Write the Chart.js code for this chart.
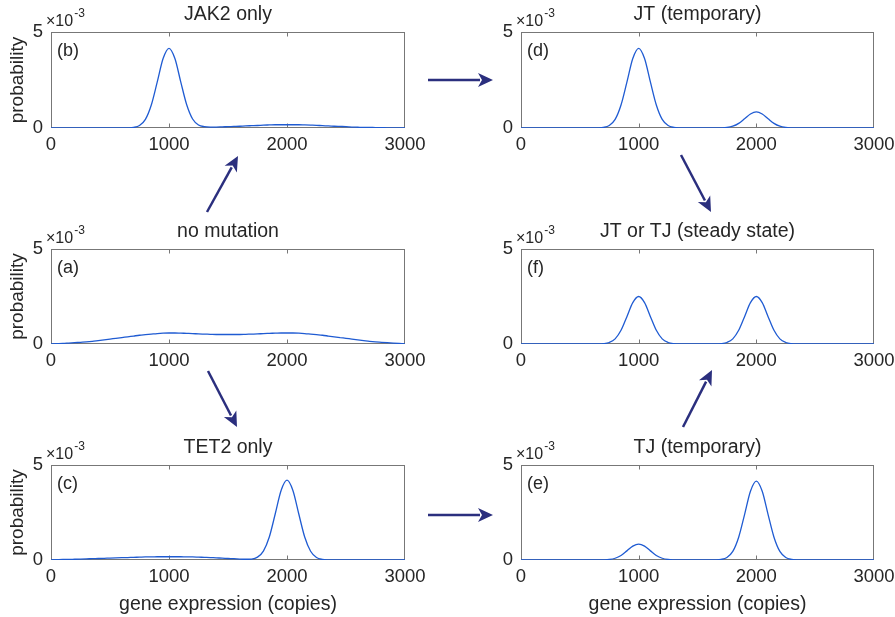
<!DOCTYPE html>
<html>
<head>
<meta charset="utf-8">
<script src="https://cdn.jsdelivr.net/npm/chart.js@4.4.0/dist/chart.umd.min.js"></script>
<style>
  body { margin: 0; background: #fff; }
  #wrap { position: relative; width: 895px; height: 617px; overflow: hidden; }
  #wrap canvas { position: absolute; }
</style>
</head>
<body>
<div id="wrap">
  <canvas id="pb" width="430" height="156" style="left:0;top:2px"></canvas>
  <canvas id="pd" width="425" height="156" style="left:470px;top:2px"></canvas>
  <canvas id="pa" width="430" height="155" style="left:0;top:219px"></canvas>
  <canvas id="pf" width="425" height="155" style="left:470px;top:219px"></canvas>
  <canvas id="pc" width="430" height="182" style="left:0;top:435px"></canvas>
  <canvas id="pe" width="425" height="182" style="left:470px;top:435px"></canvas>
  <canvas id="arrows" width="895" height="617" style="left:0;top:0"></canvas>
</div>
<script>
// gene expression (copies)
const copies = [0, 50, 100, 150, 200, 250, 300, 350, 400, 450, 500, 550, 600, 650, 700, 750,
  800, 850, 900, 950, 1000, 1050, 1100, 1150, 1200, 1250, 1300, 1350, 1400, 1450, 1500,
  1550, 1600, 1650, 1700, 1750, 1800, 1850, 1900, 1950, 2000, 2050, 2100, 2150, 2200,
  2250, 2300, 2350, 2400, 2450, 2500, 2550, 2600, 2650, 2700, 2750, 2800, 2850, 2900,
  2950, 3000];

// probability, in units of 1e-3
const noMutation = [0.01, 0.02, 0.03, 0.05, 0.07, 0.09, 0.11, 0.14, 0.18, 0.22, 0.26, 0.30,
  0.34, 0.38, 0.42, 0.46, 0.49, 0.52, 0.55, 0.57,
  0.58, 0.58, 0.57, 0.56, 0.55, 0.53, 0.52, 0.51, 0.50, 0.50, 0.50, 0.50, 0.50, 0.51,
  0.52, 0.53, 0.55, 0.56, 0.57, 0.58,
  0.58, 0.58, 0.57, 0.55, 0.52, 0.49, 0.46, 0.42, 0.38, 0.34, 0.30, 0.26, 0.22, 0.18,
  0.14, 0.11, 0.09, 0.07, 0.05, 0.03, 0.01];

const jak2Only = [0, 0, 0, 0, 0, 0, 0, 0, 0, 0, 0, 0, 0,
  0.005, 0.03, 0.13, 0.45, 1.20, 2.39, 3.62, 4.15, 3.62, 2.39, 1.21, 0.47, 0.16, 0.07, 0.05,
  0.05, 0.06, 0.07, 0.08, 0.09, 0.11, 0.12, 0.13, 0.15, 0.16, 0.17, 0.17, 0.17, 0.17, 0.17,
  0.16, 0.15, 0.14, 0.12, 0.11, 0.09, 0.08, 0.07, 0.05, 0.04, 0.03, 0.03, 0.02, 0.02,
  0.01, 0.01, 0.01, 0];

const tet2Only = [0.01, 0.02, 0.03, 0.03, 0.04, 0.05, 0.06, 0.07, 0.08, 0.09, 0.10, 0.11,
  0.12, 0.13, 0.14, 0.15, 0.16, 0.16, 0.17, 0.17, 0.17, 0.17, 0.17, 0.16, 0.16, 0.15,
  0.14, 0.13, 0.11, 0.10, 0.08, 0.07, 0.05,
  0.04, 0.05, 0.15, 0.47, 1.21, 2.42, 3.66, 4.20, 3.66, 2.42, 1.21, 0.46, 0.13, 0.03, 0.005,
  0, 0, 0, 0, 0, 0, 0, 0, 0, 0, 0, 0, 0];

const jtTemporary = [0, 0, 0, 0, 0, 0, 0, 0, 0, 0, 0, 0, 0,
  0.005, 0.03, 0.13, 0.45, 1.20, 2.39, 3.62, 4.15, 3.62, 2.39, 1.20, 0.45, 0.13, 0.03, 0.005,
  0, 0, 0, 0, 0,
  0.001, 0.006, 0.026, 0.092, 0.24, 0.48, 0.73, 0.84, 0.73, 0.48, 0.24, 0.092, 0.026, 0.006, 0.001,
  0, 0, 0, 0, 0, 0, 0, 0, 0, 0, 0, 0, 0];

const tjTemporary = [0, 0, 0, 0, 0, 0, 0, 0, 0, 0, 0, 0, 0,
  0.001, 0.006, 0.026, 0.092, 0.24, 0.48, 0.73, 0.84, 0.73, 0.48, 0.24, 0.092, 0.026, 0.006, 0.001,
  0, 0, 0, 0, 0,
  0.005, 0.03, 0.13, 0.45, 1.20, 2.39, 3.62, 4.15, 3.62, 2.39, 1.20, 0.45, 0.13, 0.03, 0.005,
  0, 0, 0, 0, 0, 0, 0, 0, 0, 0, 0, 0, 0];

const steadyState = [0, 0, 0, 0, 0, 0, 0, 0, 0, 0, 0, 0, 0,
  0.002, 0.017, 0.08, 0.27, 0.72, 1.44, 2.18, 2.50, 2.18, 1.44, 0.72, 0.27, 0.08, 0.017, 0.002,
  0, 0, 0, 0, 0,
  0.002, 0.017, 0.08, 0.27, 0.72, 1.44, 2.18, 2.50, 2.18, 1.44, 0.72, 0.27, 0.08, 0.017, 0.002,
  0, 0, 0, 0, 0, 0, 0, 0, 0, 0, 0, 0, 0];

const xTicks = [0, 1000, 2000, 3000];
const yTicks = [0, 5];

const FONT = '"Liberation Sans", Arial, Helvetica, sans-serif';
const INK = '#262626';
const AXIS = '#777777';
const LINE = '#1f5bd2';

// box round the axes, inward ticks, panel letter and the x10^-3 multiplier
const boxPlugin = {
  id: 'box',
  beforeDatasetsDraw(chart, args, opts) {
    const { ctx, chartArea: a, scales } = chart;
    const l = Math.round(a.left) + 0.5, r = Math.round(a.right) - 0.5;
    const t = Math.round(a.top) + 0.5, b = Math.round(a.bottom) - 0.5;
    ctx.save();
    ctx.strokeStyle = AXIS;
    ctx.lineWidth = 1;
    ctx.strokeRect(l, t, r - l, b - t);
    ctx.beginPath();
    xTicks.slice(1, -1).forEach(v => {
      const px = Math.round(scales.x.getPixelForValue(v)) + 0.5;
      ctx.moveTo(px, b); ctx.lineTo(px, b - 4);
      ctx.moveTo(px, t); ctx.lineTo(px, t + 4);
    });
    ctx.stroke();
    ctx.restore();
  },
  afterDraw(chart, args, opts) {
    const { ctx, chartArea: a } = chart;
    ctx.save();
    ctx.fillStyle = INK;
    ctx.textBaseline = 'middle';
    ctx.textAlign = 'left';
    ctx.font = '18px ' + FONT;
    ctx.fillText(opts.letter, a.left + 6, a.top + 19);
    ctx.font = '16px ' + FONT;
    ctx.fillText('\u00d710', a.left - 5, a.top - 10);
    const w = ctx.measureText('\u00d710').width;
    ctx.font = '12px ' + FONT;
    ctx.fillText('-3', a.left - 4 + w, a.top - 18);
    ctx.restore();
  }
};

function makePanel(id, title, letter, values, yTitle, xTitle) {
  const canvas = document.getElementById(id);
  const rightPad = canvas.width === 430 ? 25 : 21;
  new Chart(canvas, {
    type: 'line',
    data: {
      datasets: [{
        data: copies.map((c, i) => ({ x: c, y: values[i] })),
        borderColor: LINE,
        borderWidth: 1.3,
        pointRadius: 0,
        cubicInterpolationMode: 'monotone',
        fill: false
      }]
    },
    options: {
      responsive: false,
      animation: false,
      devicePixelRatio: 1,
      layout: { padding: { left: 0, right: rightPad, top: 0, bottom: 0 } },
      plugins: {
        legend: { display: false },
        tooltip: { enabled: false },
        title: {
          display: true,
          fullSize: false,
          text: title,
          color: INK,
          font: { family: FONT, size: 19.5, weight: 'normal', lineHeight: '22px' },
          padding: { top: 2, bottom: 6 }
        },
        box: { letter: letter }
      },
      scales: {
        x: {
          type: 'linear',
          min: 0,
          max: 3000,
          grid: { display: false, drawTicks: false },
          border: { display: false },
          afterBuildTicks: s => { s.ticks = xTicks.map(v => ({ value: v })); },
          afterFit: s => { s.height = xTitle ? 57 : 30; s.paddingLeft = 0; s.paddingRight = 0; },
          ticks: {
            color: INK,
            padding: 6,
            maxRotation: 0,
            callback: v => String(v),
            font: { family: FONT, size: 18.5, lineHeight: '22px' }
          },
          title: {
            display: !!xTitle,
            text: xTitle || '',
            color: INK,
            font: { family: FONT, size: 19.5, lineHeight: '22px' },
            padding: { top: 0, bottom: 1 }
          }
        },
        y: {
          min: 0,
          max: 5,
          grid: { display: false, drawTicks: false },
          border: { display: false },
          afterBuildTicks: s => { s.ticks = yTicks.map(v => ({ value: v })); },
          afterFit: s => { s.width = 51; s.paddingTop = 0; s.paddingBottom = 0; },
          ticks: {
            color: INK,
            padding: 8,
            callback: v => String(v),
            font: { family: FONT, size: 18.5, lineHeight: '22px' }
          },
          title: {
            display: !!yTitle,
            text: yTitle || '',
            color: INK,
            font: { family: FONT, size: 19, lineHeight: '22px' },
            padding: { top: 7, bottom: 0 }
          }
        }
      }
    },
    plugins: [boxPlugin]
  });
}

makePanel('pb', 'JAK2 only', '(b)', jak2Only, 'probability', null);
makePanel('pd', 'JT (temporary)', '(d)', jtTemporary, null, null);
makePanel('pa', 'no mutation', '(a)', noMutation, 'probability', null);
makePanel('pf', 'JT or TJ (steady state)', '(f)', steadyState, null, null);
makePanel('pc', 'TET2 only', '(c)', tet2Only, 'probability', 'gene expression (copies)');
makePanel('pe', 'TJ (temporary)', '(e)', tjTemporary, null, 'gene expression (copies)');

// arrows between the panels
const actx = document.getElementById('arrows').getContext('2d');
function arrow(x1, y1, x2, y2) {
  const ang = Math.atan2(y2 - y1, x2 - x1);
  const head = 15, half = 7;
  const bx = x2 - head * Math.cos(ang), by = y2 - head * Math.sin(ang);
  actx.beginPath();
  actx.moveTo(x1, y1);
  actx.lineTo(bx + 2 * Math.cos(ang), by + 2 * Math.sin(ang));
  actx.stroke();
  actx.beginPath();
  actx.moveTo(x2, y2);
  actx.lineTo(bx + half * Math.sin(ang), by - half * Math.cos(ang));
  actx.lineTo(bx + 4 * Math.cos(ang), by + 4 * Math.sin(ang));
  actx.lineTo(bx - half * Math.sin(ang), by + half * Math.cos(ang));
  actx.closePath();
  actx.fill();
}
actx.strokeStyle = '#2b2f7e';
actx.fillStyle = '#2b2f7e';
actx.lineWidth = 2.5;
arrow(207, 212, 238, 156);
arrow(208, 371, 237, 427);
arrow(428, 80, 493, 80);
arrow(428, 515, 493, 515);
arrow(681, 155, 711, 212);
arrow(683, 427, 712, 370);
</script>
</body>
</html>
